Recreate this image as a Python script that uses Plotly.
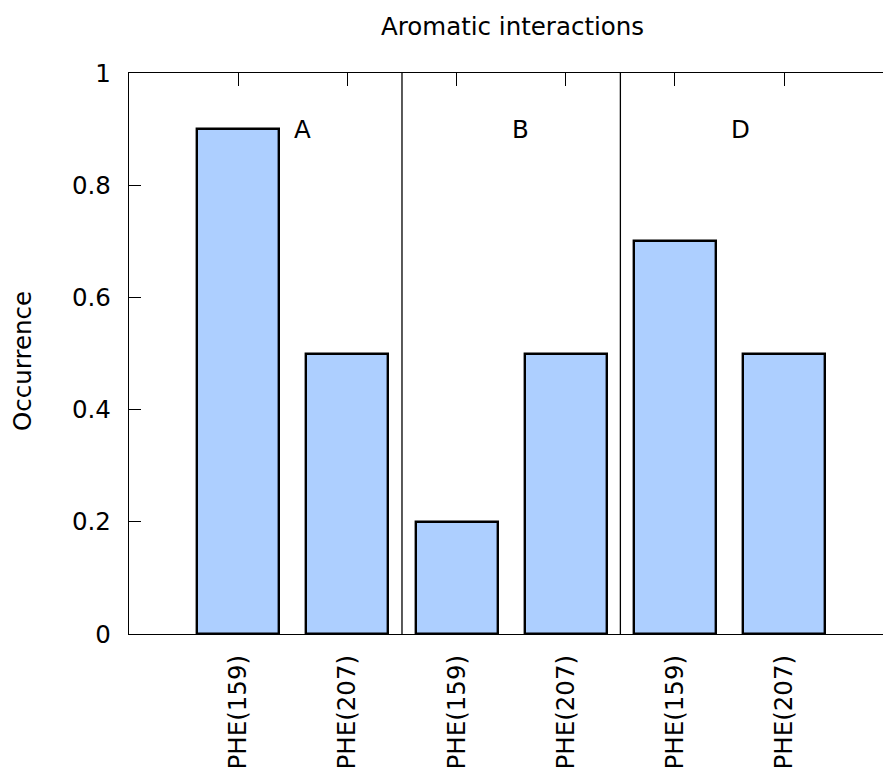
import plotly.graph_objects as go

# Data
chains = ["A", "B", "D"]
residues = ["PHE(159)", "PHE(207)", "PHE(159)", "PHE(207)", "PHE(159)", "PHE(207)"]
occurrence = [0.9, 0.5, 0.2, 0.5, 0.7, 0.5]
positions = [0, 1, 2, 3, 4, 5]
chain_label_x = [0.5, 2.5, 4.5]
chain_label_y = [0.9, 0.9, 0.9]
separators = [1.5, 3.5]
ytick_vals = [0, 0.2, 0.4, 0.6, 0.8, 1]
ytick_text = ["0", "0.2", "0.4", "0.6", "0.8", "1"]

FONT = "DejaVu Sans"
FS = 24.5

fig = go.Figure()
fig.add_trace(go.Bar(
    x=positions, y=occurrence, width=0.75,
    marker=dict(color="#adcfff", line=dict(color="black", width=2.4)),
    showlegend=False,
))

for s in separators:
    fig.add_shape(type="line", xref="x", yref="y", x0=s, x1=s, y0=0, y1=1,
                  line=dict(color="black", width=1.3))

for lab, lx, ly in zip(chains, chain_label_x, chain_label_y):
    fig.add_annotation(x=lx, y=ly, xref="x", yref="y", text=lab, showarrow=False,
                       xanchor="left", yanchor="middle", borderpad=0,
                       font=dict(family=FONT, size=FS, color="black"))

fig.add_annotation(x=(512 - 129) / 754, y=(634 - 27) / 561, xref="paper", yref="paper",
                   text="Aromatic interactions", showarrow=False,
                   xanchor="center", yanchor="middle",
                   font=dict(family=FONT, size=FS, color="black"))
fig.add_annotation(x=(22 - 129) / 754, y=(634 - 361) / 561, xref="paper", yref="paper",
                   text="Occurrence", showarrow=False, textangle=-90,
                   xanchor="center", yanchor="middle",
                   font=dict(family=FONT, size=FS, color="black"))

fig.update_layout(
    width=883, height=767,
    margin=dict(l=129, r=0, t=73, b=133, autoexpand=False),
    paper_bgcolor="white", plot_bgcolor="white",
    font=dict(family=FONT, size=FS, color="black"),
    bargap=0,
    xaxis=dict(range=[-1, 5.905], tickvals=positions, ticktext=residues, tickangle=-90,
               ticks="inside", ticklen=13, tickwidth=1.3, tickcolor="black",
               showline=True, linecolor="black", linewidth=1.3, mirror="ticks",
               showgrid=False, zeroline=False, layer="below traces",
               ticklabelstandoff=10, fixedrange=True, automargin=False),
    yaxis=dict(range=[0, 1], tickvals=ytick_vals, ticktext=ytick_text,
               ticks="inside", ticklen=12, tickwidth=1.3, tickcolor="black",
               showline=True, linecolor="black", linewidth=1.3, mirror=False,
               showgrid=False, zeroline=False, ticklabelstandoff=12, fixedrange=True,
               automargin=False),
)

fig.write_html("out.html")
